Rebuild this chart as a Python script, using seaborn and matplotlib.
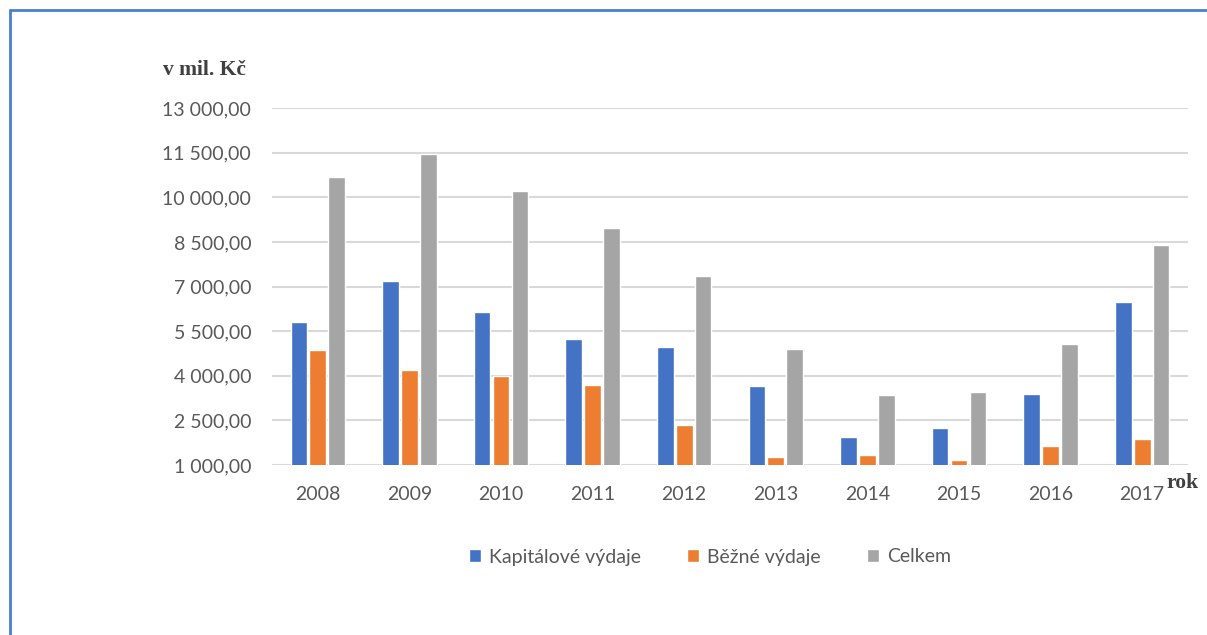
import numpy as np
import pandas as pd
import seaborn as sns
import matplotlib.pyplot as plt
from matplotlib.lines import Line2D
from matplotlib.ticker import FuncFormatter

years = ['2008', '2009', '2010', '2011', '2012', '2013', '2014', '2015', '2016', '2017']
kapitalove = [5800, 7180, 6150, 5240, 4980, 3640, 1950, 2260, 3380, 6490]
bezne = [4860, 4210, 4000, 3690, 2360, 1260, 1350, 1170, 1650, 1870]
celkem = [10680, 11470, 10210, 8950, 7360, 4890, 3340, 3460, 5070, 8390]
series = ['Kapitálové výdaje', 'Běžné výdaje', 'Celkem']
colors = ['#4472C4', '#ED7D31', '#A5A5A5']
yticks = [1000, 2500, 4000, 5500, 7000, 8500, 10000, 11500, 13000]

df = pd.DataFrame({
    'rok': years * 3,
    'hodnota': kapitalove + bezne + celkem,
    'serie': [s for s in series for _ in years],
})

sns.set_style("white")
plt.rcParams['font.family'] = ['Lato', 'DejaVu Sans']

fig = plt.figure(figsize=(12.07, 6.35), dpi=100)
ax = fig.add_axes([272 / 1207, 1 - 465 / 635, 916 / 1207, 357 / 635])

sns.barplot(data=df, x='rok', y='hodnota', hue='serie', palette=colors,
            width=0.62, gap=0.12, ax=ax, saturation=1)

ax.set_ylim(1000, 13000)
ax.set_yticks(yticks)


def cz_fmt(v, pos):
    s = f"{v:,.2f}"
    return s.replace(',', ' ').replace('.', ',')


ax.yaxis.set_major_formatter(FuncFormatter(cz_fmt))
ax.grid(axis='y', color='#D9D9D9', linewidth=1.5)
ax.set_axisbelow(True)
sns.despine(ax=ax, left=True, bottom=True, top=True, right=True)
ax.tick_params(axis='both', length=0, labelsize=14, labelcolor='#595959')
ax.tick_params(axis='x', pad=15)
ax.tick_params(axis='y', pad=15)
ax.set_xlabel('')
ax.set_ylabel('')
ax.set_xlim(-0.5, 9.5)

handles, labels = ax.get_legend_handles_labels()
ax.get_legend().remove()
fig.legend(handles, labels, loc='center', bbox_to_anchor=(710 / 1207, 1 - 557 / 635),
           ncol=3, frameon=False, fontsize=14, labelcolor='#595959',
           handlelength=0.6, handleheight=0.6, handletextpad=0.4, columnspacing=2.4)

fig.text(204 / 1207, 1 - 70 / 635, 'v mil. Kč', ha='center', va='center',
         fontsize=15.5, fontweight='bold', family='Liberation Serif', color='#404040')
fig.text(1182 / 1207, 1 - 483 / 635, 'rok', ha='center', va='center',
         fontsize=15.5, fontweight='bold', family='Liberation Serif', color='#404040')

# frame lines of the original screenshot
fig.add_artist(Line2D([10 / 1207, 1], [1 - 10 / 635, 1 - 10 / 635], color='#4A7FD0', lw=2))
fig.add_artist(Line2D([10 / 1207, 10 / 1207], [0, 1 - 10 / 635], color='#4A7FD0', lw=2))

fig.savefig('out.png', dpi=100)
